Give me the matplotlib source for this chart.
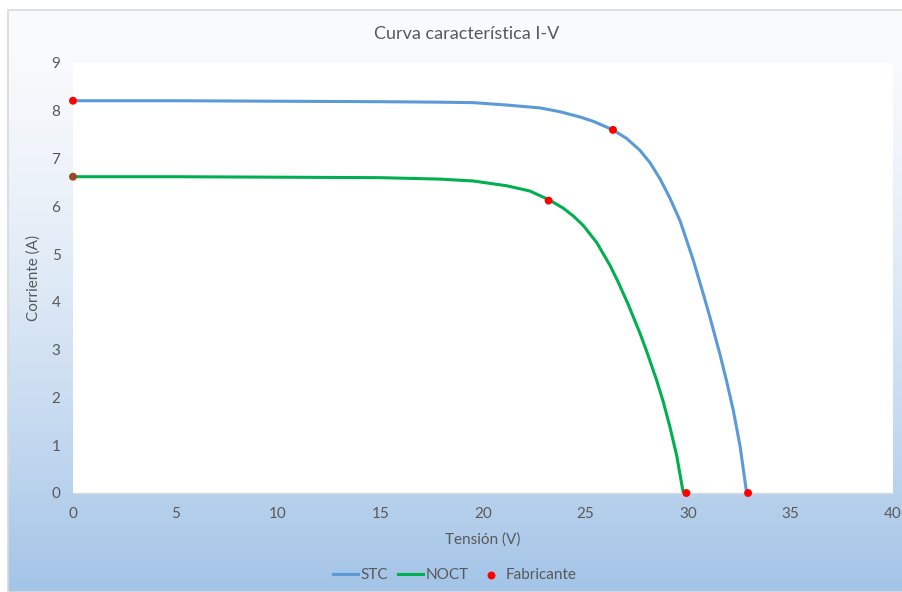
import numpy as np
import matplotlib
matplotlib.use('Agg')
import matplotlib.pyplot as plt
from matplotlib.patches import Rectangle

plt.rcParams['font.family'] = ['Lato', 'DejaVu Sans']

# I-V curve under standard test conditions
stc_v = [0, 5, 10, 15, 17.9, 19.53, 21.16, 22.78, 23.76, 24.73, 25.38, 26.34, 27.01, 27.66,
         28.15, 28.63, 29.12, 29.61, 29.94, 30.26, 30.5, 30.75, 31.07, 31.56, 31.89, 32.21,
         32.54, 32.86]
stc_i = [8.21, 8.21, 8.2, 8.19, 8.18, 8.17, 8.12, 8.06, 7.98, 7.87, 7.78, 7.60, 7.42, 7.17,
         6.91, 6.58, 6.17, 5.70, 5.28, 4.87, 4.52, 4.16, 3.68, 2.90, 2.33, 1.73,
         0.98, 0.0]

# I-V curve under NOCT conditions
noct_v = [0, 5, 10, 15, 17.9, 19.53, 21.16, 22.29, 23.25, 23.92, 24.4, 24.89, 25.55, 26.2,
          26.6, 27.09, 27.66, 27.98, 28.47, 28.8, 29.12, 29.45, 29.77]
noct_i = [6.62, 6.62, 6.61, 6.60, 6.57, 6.53, 6.43, 6.32, 6.13, 5.96, 5.80, 5.60, 5.24, 4.76,
          4.41, 3.94, 3.34, 2.97, 2.36, 1.90, 1.38, 0.78, 0.0]

# Manufacturer datasheet points (Isc, Pmp, Voc)
fab_v = [0, 26.34, 32.93, 0, 23.2, 29.92]
fab_i = [8.21, 7.60, 0.0, 6.62, 6.12, 0.0]
fab_colors = ['#ff0000', '#ff0000', '#ff0000', '#9c4a1c', '#ff0000', '#ff0000']

W, H = 903, 592
fig = plt.figure(figsize=(W / 100, H / 100), dpi=100)
fig.patch.set_facecolor('white')

# Chart area with white-to-blue vertical gradient
x0, y_top = 8, 10
bg = fig.add_axes([x0 / W, 0, 1 - x0 / W, 1 - y_top / H])
t = np.linspace(0, 1, 256) ** 1.5
top = np.array([250, 251, 253]) / 255
bot = np.array([163, 196, 231]) / 255
grad = top[None, :] + (bot - top)[None, :] * t[:, None]
bg.imshow(grad[:, None, :], aspect='auto', extent=[0, 1, 0, 1])
bg.set_xlim(0, 1)
bg.set_ylim(0, 1)
bg.axis('off')
bg.add_patch(Rectangle((0, 0), 1, 1, fill=False, edgecolor='#d9d9d9', lw=1.2,
                       transform=bg.transAxes, clip_on=False))

ax = fig.add_axes([73 / W, 99 / H, 820 / W, 430 / H])
ax.set_facecolor('white')

ax.plot(stc_v, stc_i, color='#5b9bd5', lw=2.2, label='STC', zorder=2,
        solid_joinstyle='round')
ax.plot(noct_v, noct_i, color='#00b050', lw=2.2, label='NOCT', zorder=2,
        solid_joinstyle='round')
ax.scatter(fab_v, fab_i, color=fab_colors, s=22, zorder=3, label='Fabricante', clip_on=False)

ax.set_xlim(0, 40)
ax.set_ylim(0, 9)
ax.set_xticks(range(0, 41, 5))
ax.set_yticks(range(0, 10))

for s in ['top', 'right', 'left']:
    ax.spines[s].set_visible(False)
ax.spines['bottom'].set_color('#d9d9d9')
ax.spines['bottom'].set_linewidth(1)
ax.tick_params(length=0, labelsize=11, colors='#595959', pad=10)
ax.tick_params(axis='y', pad=9)

ax.set_xlabel('Tensión (V)', fontsize=11, color='#595959', labelpad=8)
ax.set_ylabel('Corriente (A)', fontsize=11, color='#595959', labelpad=8)

fig.text(467 / W, 1 - 34 / H, 'Curva característica I-V', ha='center', va='center',
         fontsize=13, color='#595959')

leg = ax.legend(loc='center', bbox_to_anchor=(455 / W, 1 - 575 / H),
                bbox_transform=fig.transFigure, ncol=3, frameon=False,
                fontsize=11, handlelength=1.6, handletextpad=0.15, columnspacing=0.7,
                labelcolor='#595959')
leg.legend_handles[2].set_color('#ff0000')

fig.savefig('out.png', dpi=100, facecolor=fig.get_facecolor())
